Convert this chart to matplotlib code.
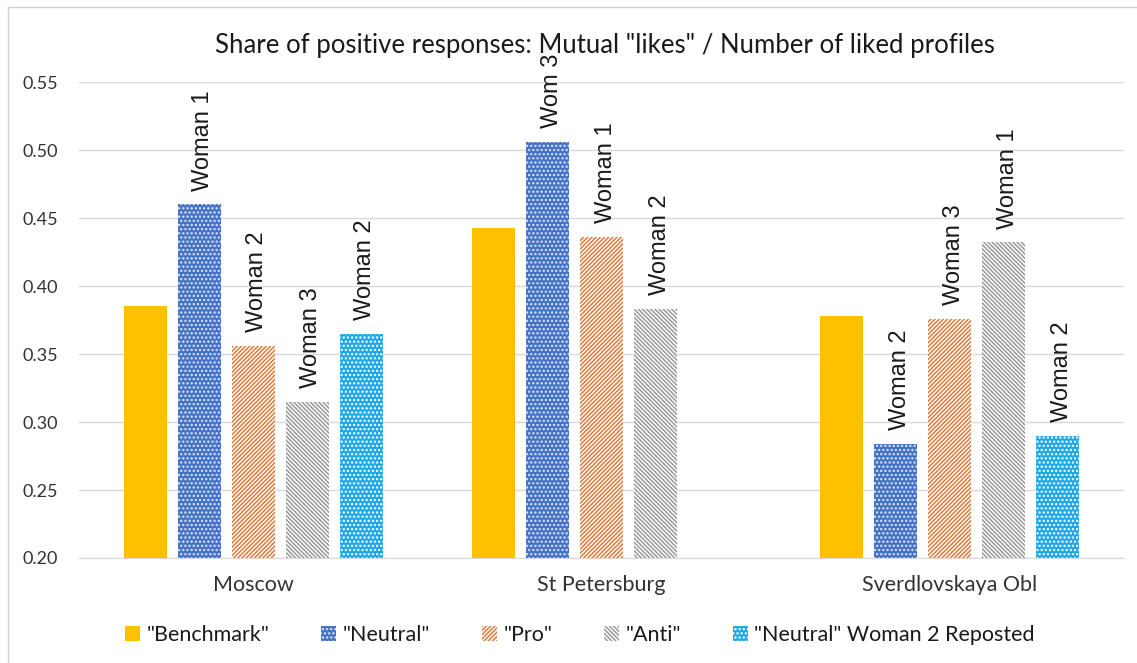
import numpy as np
import matplotlib
matplotlib.use("Agg")
import matplotlib.pyplot as plt
from matplotlib.lines import Line2D

# ---- data ----
categories = ["Moscow", "St Petersburg", "Sverdlovskaya Obl"]
series_names = ['"Benchmark"', '"Neutral"', '"Pro"', '"Anti"', '"Neutral" Woman 2 Reposted']
benchmark = [0.385, 0.443, 0.378]
neutral = [0.460, 0.506, 0.284]
pro = [0.356, 0.436, 0.376]
anti = [0.315, 0.383, 0.432]
reposted = [0.365, np.nan, 0.290]
neutral_labels = ["Woman 1", "Wom 3", "Woman 2"]
pro_labels = ["Woman 2", "Woman 1", "Woman 3"]
anti_labels = ["Woman 3", "Woman 2", "Woman 1"]
reposted_labels = ["Woman 2", "", "Woman 2"]
yticks = [0.20, 0.25, 0.30, 0.35, 0.40, 0.45, 0.50, 0.55]
title = 'Share of positive responses: Mutual "likes" / Number of liked profiles'

plt.rcParams['hatch.linewidth'] = 1.1
W, H = 1137, 663
fig = plt.figure(figsize=(W / 100, H / 100), dpi=100)
ax = fig.add_axes([79 / W, 1 - 558 / H, (1124 - 79) / W, (558 - 82) / H])

styles = [
    dict(facecolor="#FFC000", edgecolor="#FFC000", hatch=None),
    dict(facecolor="#4472C4", edgecolor="#DCE6F7", hatch="...."),
    dict(facecolor="#FFFFFF", edgecolor="#E07B3C", hatch="////////"),
    dict(facecolor="#FFFFFF", edgecolor="#9A9A9A", hatch="\\\\\\\\\\\\\\\\"),
    dict(facecolor="#1FA8E6", edgecolor="#FFFFFF", hatch="...."),
]
all_series = [benchmark, neutral, pro, anti, reposted]
all_labels = [None, neutral_labels, pro_labels, anti_labels, reposted_labels]

x = np.arange(len(categories))
step = 0.155
width = 0.124
handles = []
for j, (vals, st, labs) in enumerate(zip(all_series, styles, all_labels)):
    pos = x + (j - 2) * step
    vals_arr = np.array(vals, dtype=float)
    bars = ax.bar(pos, vals_arr - 0.2, width, bottom=0.2, linewidth=0,
                  facecolor=st["facecolor"], edgecolor=st["edgecolor"],
                  hatch=st["hatch"], label=series_names[j], zorder=3)
    handles.append(bars)
    if labs is not None:
        for p, v, lab in zip(pos, vals_arr, labs):
            if np.isnan(v) or not lab:
                continue
            ax.annotate(lab, (p, v), xytext=(3, 10), textcoords="offset points",
                        rotation=90, ha="center", va="bottom", fontsize=17,
                        family="Liberation Sans", color="#1a1a1a",
                        annotation_clip=False, zorder=4)

ax.set_xlim(-0.5, 2.5)
ax.set_ylim(0.2, 0.55)
ax.set_yticks(yticks)
ax.set_yticklabels([f"{v:.2f}" for v in yticks], family="Lato", fontsize=13, color="#333333")
ax.set_xticks(x)
ax.set_xticklabels(categories, family="Lato", fontsize=15.5, color="#333333")
ax.tick_params(axis="y", length=0, pad=15)
ax.tick_params(axis="x", length=0, pad=12)
for s in ["top", "right", "left"]:
    ax.spines[s].set_visible(False)
ax.spines["bottom"].set_color("#D9D9D9")
ax.grid(axis="y", color="#D9D9D9", linewidth=1.0, zorder=0)
ax.set_axisbelow(True)

fig.text(605 / W, 1 - 45 / H, title, ha="center", va="center",
         family="Lato", fontsize=18.5, color="#1a1a1a")

leg = fig.legend(handles=handles, loc="center", bbox_to_anchor=(580 / W, 1 - 635 / H),
                 ncol=5, frameon=False, prop={"family": "Lato", "size": 15.5},
                 handlelength=0.7, handleheight=0.7, handletextpad=0.3,
                 columnspacing=2.4)
for t in leg.get_texts():
    t.set_color("#1a1a1a")

# chart border (left and top visible)
fig.add_artist(Line2D([8 / W, 8 / W], [0, 1 - 7 / H], transform=fig.transFigure,
                      color="#D0D0D0", linewidth=1))
fig.add_artist(Line2D([8 / W, 1], [1 - 7 / H, 1 - 7 / H], transform=fig.transFigure,
                      color="#D0D0D0", linewidth=1))

fig.savefig("out.png", dpi=100, facecolor="white")
